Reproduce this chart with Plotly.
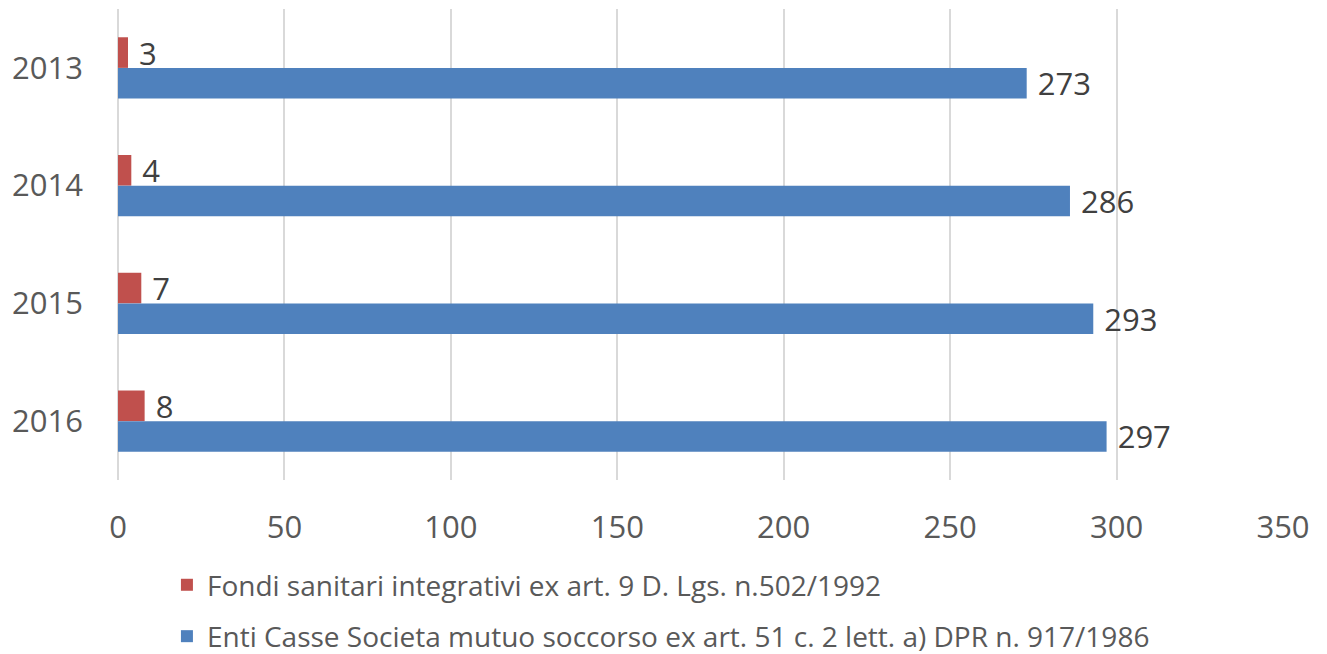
import plotly.graph_objects as go

years = ["2013", "2014", "2015", "2016"]
fondi_sanitari = [3, 4, 7, 8]
enti_casse = [273, 286, 293, 297]
x_ticks = [0, 50, 100, 150, 200, 250, 300, 350]

label_fondi = "Fondi sanitari integrativi ex art. 9 D. Lgs. n.502/1992"
label_enti = "Enti Casse Societa mutuo soccorso ex art. 51 c. 2 lett. a) DPR n. 917/1986"

FONT = "Open Sans"
TXT = "#595959"
SIZE = 31

fig = go.Figure()
fig.add_trace(go.Bar(
    y=years, x=fondi_sanitari, orientation="h", name=label_fondi,
    marker=dict(color="#C0504D", line=dict(width=0)),
    text=fondi_sanitari, texttemplate=" %{x}", textposition="outside",
    textfont=dict(family=FONT, size=SIZE, color="#404040"),
    constraintext="none", cliponaxis=False, legendgroup="a",
))
fig.add_trace(go.Bar(
    y=years, x=enti_casse, orientation="h", name=label_enti,
    marker=dict(color="#4F81BD", line=dict(width=0)),
    text=enti_casse, texttemplate=" %{x}", textposition="outside",
    textfont=dict(family=FONT, size=SIZE, color="#404040"),
    constraintext="none", cliponaxis=False, legendgroup="b",
))

fig.update_layout(
    width=1327, height=654,
    margin=dict(l=118, r=44, t=9, b=174, autoexpand=False),
    paper_bgcolor="white", plot_bgcolor="white",
    barmode="group", bargap=0.48, bargroupgap=0,
    font=dict(family=FONT, color=TXT),
    xaxis=dict(
        range=[0, 350], tickvals=x_ticks, showgrid=True, gridcolor="#D9D9D9",
        gridwidth=1.5, zeroline=True, zerolinecolor="#D9D9D9", zerolinewidth=1.5,
        showline=False, ticks="", tickfont=dict(family=FONT, size=SIZE, color=TXT),
        ticklabelstandoff=26, automargin=False,
    ),
    yaxis=dict(
        autorange="reversed", showgrid=False, showline=False, ticks="",
        tickfont=dict(family=FONT, size=SIZE, color=TXT), ticklabelstandoff=34,
        automargin=False,
    ),
    legend=dict(
        orientation="v", x=0.042, xanchor="left", y=-0.17, yanchor="top",
        font=dict(family=FONT, size=28, color=TXT), tracegroupgap=12,
        traceorder="grouped", bgcolor="rgba(0,0,0,0)",
    ),
)

fig.write_html("out.html")
